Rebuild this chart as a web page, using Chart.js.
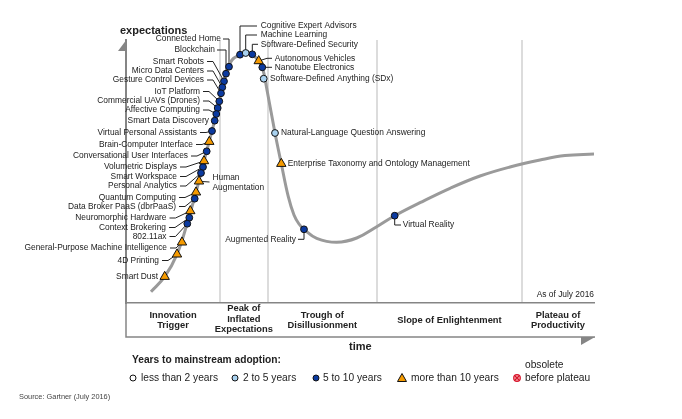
<!DOCTYPE html>
<html>
<head>
<meta charset="utf-8">
<title>Hype Cycle for Emerging Technologies, 2016</title>
<script src="https://cdn.jsdelivr.net/npm/chart.js@4/dist/chart.umd.min.js"></script>
<style>
  html, body { margin: 0; padding: 0; background: #fff; }
  canvas { display: block; }
</style>
</head>
<body>
<canvas id="myChart" width="682" height="419"></canvas>
<script>
// data (arbitrary time / expectations units)
const technologies = ['Connected Home', 'Blockchain', 'Smart Robots', 'Micro Data Centers', 'Gesture Control Devices',
  'IoT Platform', 'Commercial UAVs (Drones)', 'Affective Computing', 'Smart Data Discovery', 'Virtual Personal Assistants',
  'Brain-Computer Interface', 'Conversational User Interfaces', 'Volumetric Displays', 'Smart Workspace', 'Personal Analytics',
  'Human Augmentation', 'Quantum Computing', 'Data Broker PaaS (dbrPaaS)', 'Neuromorphic Hardware', 'Context Brokering',
  '802.11ax', 'General-Purpose Machine Intelligence', '4D Printing', 'Smart Dust', 'Cognitive Expert Advisors',
  'Machine Learning', 'Software-Defined Security', 'Autonomous Vehicles', 'Nanotube Electronics', 'Software-Defined Anything (SDx)',
  'Natural-Language Question Answering', 'Enterprise Taxonomy and Ontology Management', 'Augmented Reality', 'Virtual Reality'];
const techTime = [103, 100, 98, 96.3, 95, 93.3, 91.7, 90.3, 88.7, 86, 83.3, 80.7, 78, 77, 75, 73, 70, 68.7, 64.3, 63.3,
  61.3, 56, 51, 38.7, 114, 119.7, 126.3, 132.7, 136.3, 137.7, 149, 155.3, 178, 268.7];
const techExpectations = [236.3, 229.3, 221.7, 215.7, 209.7, 201.7, 195, 189, 182.3, 172, 161.3, 151.7, 142, 136, 130, 121.7,
  110.7, 104.3, 92, 85.3, 79.3, 60.7, 48.7, 26.3, 248.3, 250, 248.7, 242, 235.7, 224.3, 170, 139.3, 73.7, 87.3];
// 1 = 2 to 5 years, 2 = 5 to 10 years, 3 = more than 10 years
const techAdoption = [2, 2, 2, 2, 2, 2, 2, 2, 2, 2, 3, 2, 3, 2, 2, 3, 3, 2, 3, 2, 2, 3, 3, 3, 2, 1, 2, 3, 2, 1, 1, 3, 2, 2];

const curveTime = [25, 38.7, 51, 61, 70, 78, 86, 93.3, 100, 106, 114, 120, 126, 132, 136.3, 141, 149, 155.3, 162.3, 168, 173,
  178, 190.7, 210.7, 230.7, 250.7, 268.7, 294, 324, 354, 384, 414, 439, 468];
const curveExpectations = [11.3, 26.3, 48.7, 79, 110.7, 142, 172, 201.7, 229, 243, 248.3, 250.5, 249, 242.5, 235.7, 213, 170,
  139.3, 106.3, 88, 79, 73.7, 64.7, 60.7, 65, 76.3, 87.3, 100.3, 114.7, 127, 136, 143, 147.5, 149];

const phaseEdges = [94, 141.7, 251, 396];
const phaseLabels = [['Innovation', 'Trigger'], ['Peak of', 'Inflated', 'Expectations'], ['Trough of', 'Disillusionment'],
  ['Slope of Enlightenment'], ['Plateau of', 'Productivity']];
const legendLabels = ['less than 2 years', '2 to 5 years', '5 to 10 years', 'more than 10 years', 'before plateau'];

// label placement on the page: side, text anchor x, text y, leader elbows
const L = (x, y, stub) => ({ align: 'right', x, y, leader: stub === 0 ? [] : [[x + 3, y], [x + (stub || 9), y]] });
const R = (x, y, leader) => ({ align: 'left', x, y, leader: leader || [] });
const labelLayout = {
  'Connected Home': { align: 'right', x: 221, y: 39, leader: [[223, 39], [229, 39]] },
  'Blockchain': { align: 'right', x: 215, y: 50, leader: [[217, 50], [226, 50]] },
  'Smart Robots': L(204, 61.5), 'Micro Data Centers': L(204, 71), 'Gesture Control Devices': L(204, 80),
  'IoT Platform': L(200, 91.5), 'Commercial UAVs (Drones)': L(200, 101), 'Affective Computing': L(200, 110),
  'Smart Data Discovery': L(209, 121, 0), 'Virtual Personal Assistants': L(197, 132.5), 'Brain-Computer Interface': L(193, 144.5),
  'Conversational User Interfaces': L(188, 156), 'Volumetric Displays': L(177, 167), 'Smart Workspace': L(177, 176.5),
  'Personal Analytics': L(177, 186), 'Quantum Computing': L(176, 197.5), 'Data Broker PaaS (dbrPaaS)': L(176, 206.5),
  'Neuromorphic Hardware': L(166.5, 218), 'Context Brokering': L(166, 227.5), '802.11ax': L(166.5, 236.5),
  'General-Purpose Machine Intelligence': L(167, 248), '4D Printing': L(159, 260.5), 'Smart Dust': L(158, 277, 0),
  'Human Augmentation': { align: 'left', x: 212.5, y: 178, lines: ['Human', 'Augmentation'], leader: [[209.5, 182]] },
  'Cognitive Expert Advisors': R(260.7, 25.7, [[257, 26], [240, 26]]),
  'Machine Learning': R(260.7, 35, [[257, 35], [245.7, 35]]),
  'Software-Defined Security': R(260.7, 44.3, [[258, 44.3], [252.3, 44.3]]),
  'Autonomous Vehicles': R(274.7, 58.3, [[272, 58.3], [267, 58.3]]),
  'Nanotube Electronics': R(274.7, 67.3, [[272, 67.3]]),
  'Software-Defined Anything (SDx)': R(270, 78.7),
  'Natural-Language Question Answering': R(281, 133),
  'Enterprise Taxonomy and Ontology Management': R(287.7, 163.7),
  'Augmented Reality': { align: 'right', x: 296, y: 239.3, leader: [[298, 239.3], [304, 239.3]] },
  'Virtual Reality': R(402.7, 225, [[401, 225], [394.7, 225]])
};

const ink = '#222222';
const axisGray = '#858585';
const font = (size, bold) => (bold ? 'bold ' : '') + size + 'px "Liberation Sans", Arial, sans-serif';

function pointsFor(adoption) {
  const pts = [];
  techAdoption.forEach((a, i) => { if (a === adoption) pts.push({ x: techTime[i], y: techExpectations[i] }); });
  return pts;
}

function text(ctx, str, x, y, f, align, color) {
  ctx.font = f;
  ctx.textAlign = align || 'left';
  ctx.textBaseline = 'middle';
  ctx.fillStyle = color || ink;
  ctx.fillText(str, x, y);
}

function marker(ctx, kind, x, y) {
  ctx.beginPath();
  ctx.lineWidth = 1;
  ctx.strokeStyle = '#111';
  if (kind === 3) {
    ctx.moveTo(x - 4.5, y + 3.5); ctx.lineTo(x + 4.5, y + 3.5); ctx.lineTo(x, y - 4.5); ctx.closePath();
    ctx.fillStyle = '#f59a00';
  } else {
    ctx.arc(x, y, 3, 0, Math.PI * 2);
    ctx.fillStyle = kind === 0 ? '#fff' : kind === 1 ? '#a9d2f0' : '#0b3aa0';
  }
  ctx.fill();
  ctx.stroke();
}

const hypePlugin = {
  id: 'hypePlugin',
  beforeDatasetsDraw(chart) {
    const { ctx, scales: { x, y } } = chart;
    ctx.save();
    // leader lines end on their markers through the scales
    ctx.strokeStyle = '#222';
    ctx.lineWidth = 1;
    technologies.forEach((name, i) => {
      const lay = labelLayout[name];
      if (!lay.leader.length) return;
      ctx.beginPath();
      lay.leader.forEach((p, k) => (k ? ctx.lineTo(p[0], p[1]) : ctx.moveTo(p[0], p[1])));
      ctx.lineTo(x.getPixelForValue(techTime[i]), y.getPixelForValue(techExpectations[i]));
      ctx.stroke();
    });
    ctx.restore();
  },
  afterDraw(chart) {
    const { ctx, chartArea: a, scales: { x } } = chart;
    ctx.save();
    // axis arrows and phase box
    ctx.fillStyle = axisGray;
    ctx.beginPath(); ctx.moveTo(a.left + 1, 39); ctx.lineTo(a.left + 1, 51); ctx.lineTo(a.left - 8, 51); ctx.closePath(); ctx.fill();
    ctx.beginPath(); ctx.moveTo(595, 337); ctx.lineTo(581, 337); ctx.lineTo(581, 345); ctx.closePath(); ctx.fill();
    ctx.strokeStyle = axisGray;
    ctx.lineWidth = 1.5;
    ctx.beginPath(); ctx.moveTo(a.left, a.bottom); ctx.lineTo(a.left, 337); ctx.lineTo(595, 337); ctx.stroke();

    // technology names
    technologies.forEach(name => {
      const lay = labelLayout[name];
      (lay.lines || [name]).forEach((s, k) => text(ctx, s, lay.x, lay.y + k * 9.5, font(8.4), lay.align));
    });

    // phase captions
    const edges = [x.min, ...phaseEdges, x.max];
    phaseLabels.forEach((lines, i) => {
      const mid = x.getPixelForValue((edges[i] + edges[i + 1]) / 2);
      const top = lines.length === 3 ? 308.5 : lines.length === 2 ? 315 : 320;
      lines.forEach((s, k) => text(ctx, s, mid, top + k * (lines.length === 3 ? 10.7 : 10.5), font(9.35, true), 'center'));
    });

    text(ctx, 'expectations', 120, 31, font(11, true));
    text(ctx, 'time', 349, 347, font(11, true));
    text(ctx, 'As of July 2016', 594, 295, font(8.4), 'right');
    text(ctx, 'Years to mainstream adoption:', 132, 360, font(10.2, true));
    text(ctx, 'obsolete', 525, 365, font(10.2));
    text(ctx, 'Source: Gartner (July 2016)', 19, 397, font(7.4), 'left', '#444');

    // legend row
    const legendMarks = [133, 235, 316, 402];
    const legendText = [141, 243, 323, 411, 525];
    legendLabels.forEach((s, i) => text(ctx, s, legendText[i], 378, font(10.2)));
    legendMarks.forEach((mx, i) => marker(ctx, i, mx, 378));
    // obsolete mark
    ctx.beginPath(); ctx.arc(517, 378, 3.3, 0, Math.PI * 2);
    ctx.fillStyle = '#f4b0b0'; ctx.fill();
    ctx.strokeStyle = '#d8132a'; ctx.lineWidth = 1.2; ctx.stroke();
    ctx.beginPath(); ctx.moveTo(515, 376); ctx.lineTo(519, 380); ctx.moveTo(519, 376); ctx.lineTo(515, 380); ctx.stroke();
    ctx.restore();
  }
};

const config = {
  type: 'scatter',
  data: {
    datasets: [
      { label: 'Hype curve', data: curveTime.map((t, i) => ({ x: t, y: curveExpectations[i] })), showLine: true,
        borderColor: '#9a9a9a', borderWidth: 3, tension: 0.4, pointRadius: 0, order: 10 },
      { label: '2 to 5 years', data: pointsFor(1), pointStyle: 'circle', pointRadius: 3.4,
        backgroundColor: '#a9d2f0', borderColor: '#111', borderWidth: 1, order: 2 },
      { label: '5 to 10 years', data: pointsFor(2), pointStyle: 'circle', pointRadius: 3.4,
        backgroundColor: '#0b3aa0', borderColor: '#111', borderWidth: 1, order: 2 },
      { label: 'more than 10 years', data: pointsFor(3), pointStyle: 'triangle', pointRadius: 5.4,
        backgroundColor: '#f59a00', borderColor: '#111', borderWidth: 1, order: 1 }
    ]
  },
  options: {
    responsive: false,
    animation: false,
    layout: { padding: { left: 126, right: 88, top: 40, bottom: 116 } },
    plugins: { legend: { display: false }, tooltip: { enabled: false } },
    scales: {
      x: {
        type: 'linear', min: 0, max: 468,
        afterBuildTicks: axis => { axis.ticks = phaseEdges.map(v => ({ value: v })); },
        ticks: { display: false },
        grid: { color: '#dcdcdc', lineWidth: 2, drawTicks: false },
        border: { color: axisGray, width: 1.5 }
      },
      y: {
        type: 'linear', min: 0, max: 263,
        ticks: { display: false },
        grid: { display: false, drawTicks: false },
        border: { color: axisGray, width: 2 }
      }
    }
  },
  plugins: [hypePlugin]
};

const myChart = new Chart(document.getElementById('myChart'), config);
</script>
</body>
</html>
